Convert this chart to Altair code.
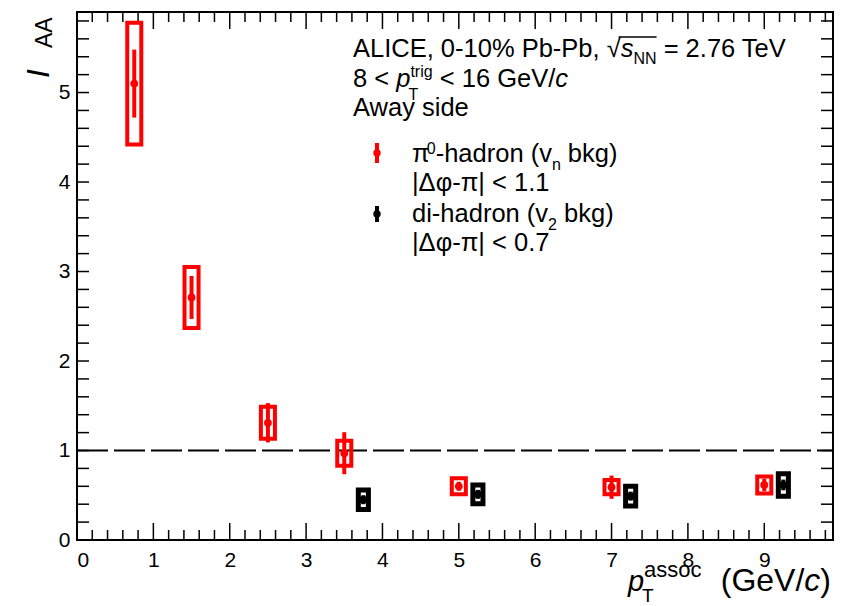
import altair as alt
import pandas as pd

# pi0-hadron correlations, v_n background subtracted, |dphi - pi| < 1.1
pi0_pt = [0.75, 1.5, 2.5, 3.5, 5.0, 7.0, 9.0]
pi0_iaa = [5.10, 2.71, 1.31, 0.97, 0.60, 0.59, 0.615]
pi0_stat = [0.38, 0.24, 0.22, 0.235, 0.05, 0.13, 0.07]
pi0_sys = [0.68, 0.34, 0.18, 0.14, 0.09, 0.08, 0.095]

# di-hadron correlations, v_2 background subtracted, |dphi - pi| < 0.7
dih_pt = [3.75, 5.25, 7.25, 9.25]
dih_iaa = [0.45, 0.51, 0.49, 0.615]
dih_stat = [0.05, 0.05, 0.05, 0.06]
dih_sys = [0.11, 0.105, 0.11, 0.125]

# axis tick positions
x_major = list(range(0, 10))
x_minor = [round(i * 0.2, 1) for i in range(1, 50) if i % 5 != 0]
y_major = list(range(0, 6))
y_minor = [round(i * 0.2, 1) for i in range(1, 30) if i % 5 != 0]

W, H = 756, 528
FONT = "Liberation Sans"
RED = "#ff0000"
F = 25.5      # body text size
S = 16        # sub/superscript size

# advance widths (per em) of the glyphs used, for laying out mixed-size text runs
ADV = {" ": .278, ",": .278, ".": .278, "-": .333, "%": .889, "<": .584, "=": .584,
       "/": .278, "(": .333, ")": .333, "|": .260, "\u221a": .549, "\u0394": .668,
       "\u03c6": .6, "\u03c0": .58, "A": .667, "C": .722, "E": .667, "G": .778,
       "I": .278, "L": .556, "N": .722, "P": .667, "T": .611, "V": .667, "a": .556,
       "b": .556, "c": .5, "d": .556, "e": .556, "g": .556, "h": .556, "i": .222,
       "k": .5, "n": .556, "o": .556, "p": .556, "r": .333, "s": .5, "t": .278,
       "v": .5, "w": .722, "y": .5}


def text_width(s, size):
    return sum(ADV.get(ch, .556) for ch in s) * size


xs = alt.Scale(domain=[0, 9.9], nice=False, zero=False)
ys = alt.Scale(domain=[0, 5.9], nice=False, zero=False)
xaxis = alt.Axis(values=x_major, ticks=False, domain=False, grid=False, title=None,
                 labelFont=FONT, labelFontSize=21, labelColor="black", labelPadding=9)
yaxis = alt.Axis(values=y_major, ticks=False, domain=False, grid=False, title=None,
                 labelFont=FONT, labelFontSize=21, labelColor="black", labelPadding=7)


def X(field):
    return alt.X(field, type="quantitative", scale=xs, axis=xaxis)


def Y(field):
    return alt.Y(field, type="quantitative", scale=ys, axis=yaxis)


def series(pt, iaa, stat, sys):
    return pd.DataFrame({"pt": pt, "iaa": iaa, "stat": stat, "sys": sys})


def points(df, color, half_width, box_stroke):
    base = alt.Chart(df).transform_calculate(
        x1=f"datum.pt - {half_width}", x2=f"datum.pt + {half_width}",
        slo="datum.iaa - datum.sys", shi="datum.iaa + datum.sys",
        elo="datum.iaa - datum.stat", ehi="datum.iaa + datum.stat",
    )
    boxes = base.mark_rect(fillOpacity=0, stroke=color, strokeWidth=box_stroke).encode(
        x=X("x1"), x2="x2", y=Y("slo"), y2="shi")
    bars = base.mark_rule(color=color, strokeWidth=4).encode(
        x=X("pt"), y=Y("elo"), y2="ehi")
    dots = base.mark_point(filled=True, shape="circle", size=60, color=color, opacity=1).encode(
        x=X("pt"), y=Y("iaa"))
    return [boxes, bars, dots]


one = pd.DataFrame({"k": [0]})


def label(txt, x, y, size=F, italic=False, align="left", angle=0):
    kw = dict(font=FONT, fontSize=size, align=align, baseline="alphabetic", color="black")
    if italic:
        kw["fontStyle"] = "italic"
    if angle:
        kw["angle"] = angle
    return alt.Chart(one).mark_text(**kw).encode(
        x=alt.value(x), y=alt.value(y), text=alt.value(txt))


def run(x, y, pieces):
    """Lay out text pieces side by side: (text, size, italic, vertical shift)."""
    out = []
    for txt, size, italic, dy in pieces:
        lead = len(txt) - len(txt.lstrip(" "))
        x += text_width(" " * lead, size)
        body = txt.lstrip(" ")
        out.append(label(body, x, y + dy, size=size, italic=italic))
        x += text_width(body, size)
    return out, x


def ticks_x(vals, length):
    df = pd.DataFrame({"v": vals})
    bottom = alt.Chart(df).mark_rule(color="black", strokeWidth=1.5).encode(
        x=X("v"), y=alt.value(H), y2=alt.value(H - length))
    top = alt.Chart(df).mark_rule(color="black", strokeWidth=1.5).encode(
        x=X("v"), y=alt.value(0), y2=alt.value(length))
    return [bottom, top]


def ticks_y(vals, length):
    df = pd.DataFrame({"v": vals})
    left = alt.Chart(df).mark_rule(color="black", strokeWidth=1.5).encode(
        y=Y("v"), x=alt.value(0), x2=alt.value(length))
    right = alt.Chart(df).mark_rule(color="black", strokeWidth=1.5).encode(
        y=Y("v"), x=alt.value(W), x2=alt.value(W - length))
    return [left, right]


# reference line at I_AA = 1
unity = alt.Chart(pd.DataFrame({"v": [1.0]})).mark_rule(
    color="black", strokeWidth=2, strokeDash=[31, 6]).encode(
    y=Y("v"), x=alt.value(0), x2=alt.value(W))

layers = [unity]
layers += ticks_x(x_major, 17) + ticks_x(x_minor, 10)
layers += ticks_y(y_major, 12) + ticks_y(y_minor, 12)
layers += points(series(pi0_pt, pi0_iaa, pi0_stat, pi0_sys), RED, 0.092, 4)
layers += points(series(dih_pt, dih_iaa, dih_stat, dih_sys), "black", 0.066, 5)

# legend symbols
for color, y0, y1 in [(RED, 131, 151), ("black", 194, 210)]:
    layers.append(alt.Chart(one).mark_rule(color=color, strokeWidth=4).encode(
        x=alt.value(300), y=alt.value(y0), y2=alt.value(y1)))
    layers.append(alt.Chart(one).mark_point(filled=True, shape="circle", size=55,
                                            color=color, opacity=1).encode(
        x=alt.value(300), y=alt.value((y0 + y1) / 2)))

TX = 276   # left edge of the header block
LX = 335   # left edge of legend text

# header line 1 with radical over s_NN
pcs, x_rad = run(TX, 45, [("ALICE, 0-10% Pb-Pb,", F, False, 0), (" ", F, False, 0)])
layers += pcs
pcs, xe = run(x_rad, 45, [("\u221a", F, False, 0), ("s", F, True, 0),
                          ("NN", S, False, 7), (" = 2.76 TeV", F, False, 0)])
layers += pcs
x_bar0 = x_rad + text_width("\u221a", F) - 2
x_bar1 = x_bar0 + text_width("s", F) + text_width("NN", S) + 2
layers.append(alt.Chart(one).mark_rule(color="black", strokeWidth=1.5).encode(
    x=alt.value(x_bar0), x2=alt.value(x_bar1), y=alt.value(25)))

# header line 2: trigger pT range
pcs, xe = run(TX, 75, [("8 < ", F, False, 0), ("p", F, True, 0)])
layers += pcs
layers.append(label("T", xe - 2, 75 + 13, size=S))
pcs, xe = run(xe, 75, [("trig", S, False, -10), (" < 16 GeV/", F, False, 0),
                       ("c", F, True, 0)])
layers += pcs

layers.append(label("Away side", TX, 104))

# legend entries
pcs, xe = run(LX, 150, [("\u03c0", F, False, 0), ("0", S, False, -8),
                        ("-hadron (v", F, False, 0), ("n", S, False, 8),
                        (" bkg)", F, False, 0)])
layers += pcs
layers.append(label("|\u0394\u03c6-\u03c0| < 1.1", LX, 179))
pcs, xe = run(LX, 210, [("di-hadron (v", F, False, 0), ("2", S, False, 8),
                        (" bkg)", F, False, 0)])
layers += pcs
layers.append(label("|\u0394\u03c6-\u03c0| < 0.7", LX, 239))

# x-axis title
XT = 32
XR = 754   # right end of the title
pcs, xe = run(551, 579, [("p", 29, True, 0)])
layers += pcs
layers.append(label("assoc", xe, 579 - 14, size=22))
layers.append(label("T", xe - 2, 590, size=19))
layers.append(label("(GeV/", XR - text_width("(GeV/c)", XT), 579, size=XT))
layers.append(label("c", XR - text_width("c)", XT), 579, size=XT, italic=True))
layers.append(label(")", XR, 579, size=XT, align="right"))

# y-axis title, rotated
layers.append(label("I", -28, 66, size=32, italic=True, angle=270))
layers.append(label("AA", -25, 36, size=23, angle=270))

chart = alt.layer(*layers).properties(
    width=W, height=H,
    autosize=alt.AutoSizeParams(type="none"),
    padding={"left": 77, "top": 12, "right": 20, "bottom": 66},
).configure_view(stroke="black", strokeWidth=2)

chart.save("out.html", embed_options={"renderer": "svg", "actions": False})
